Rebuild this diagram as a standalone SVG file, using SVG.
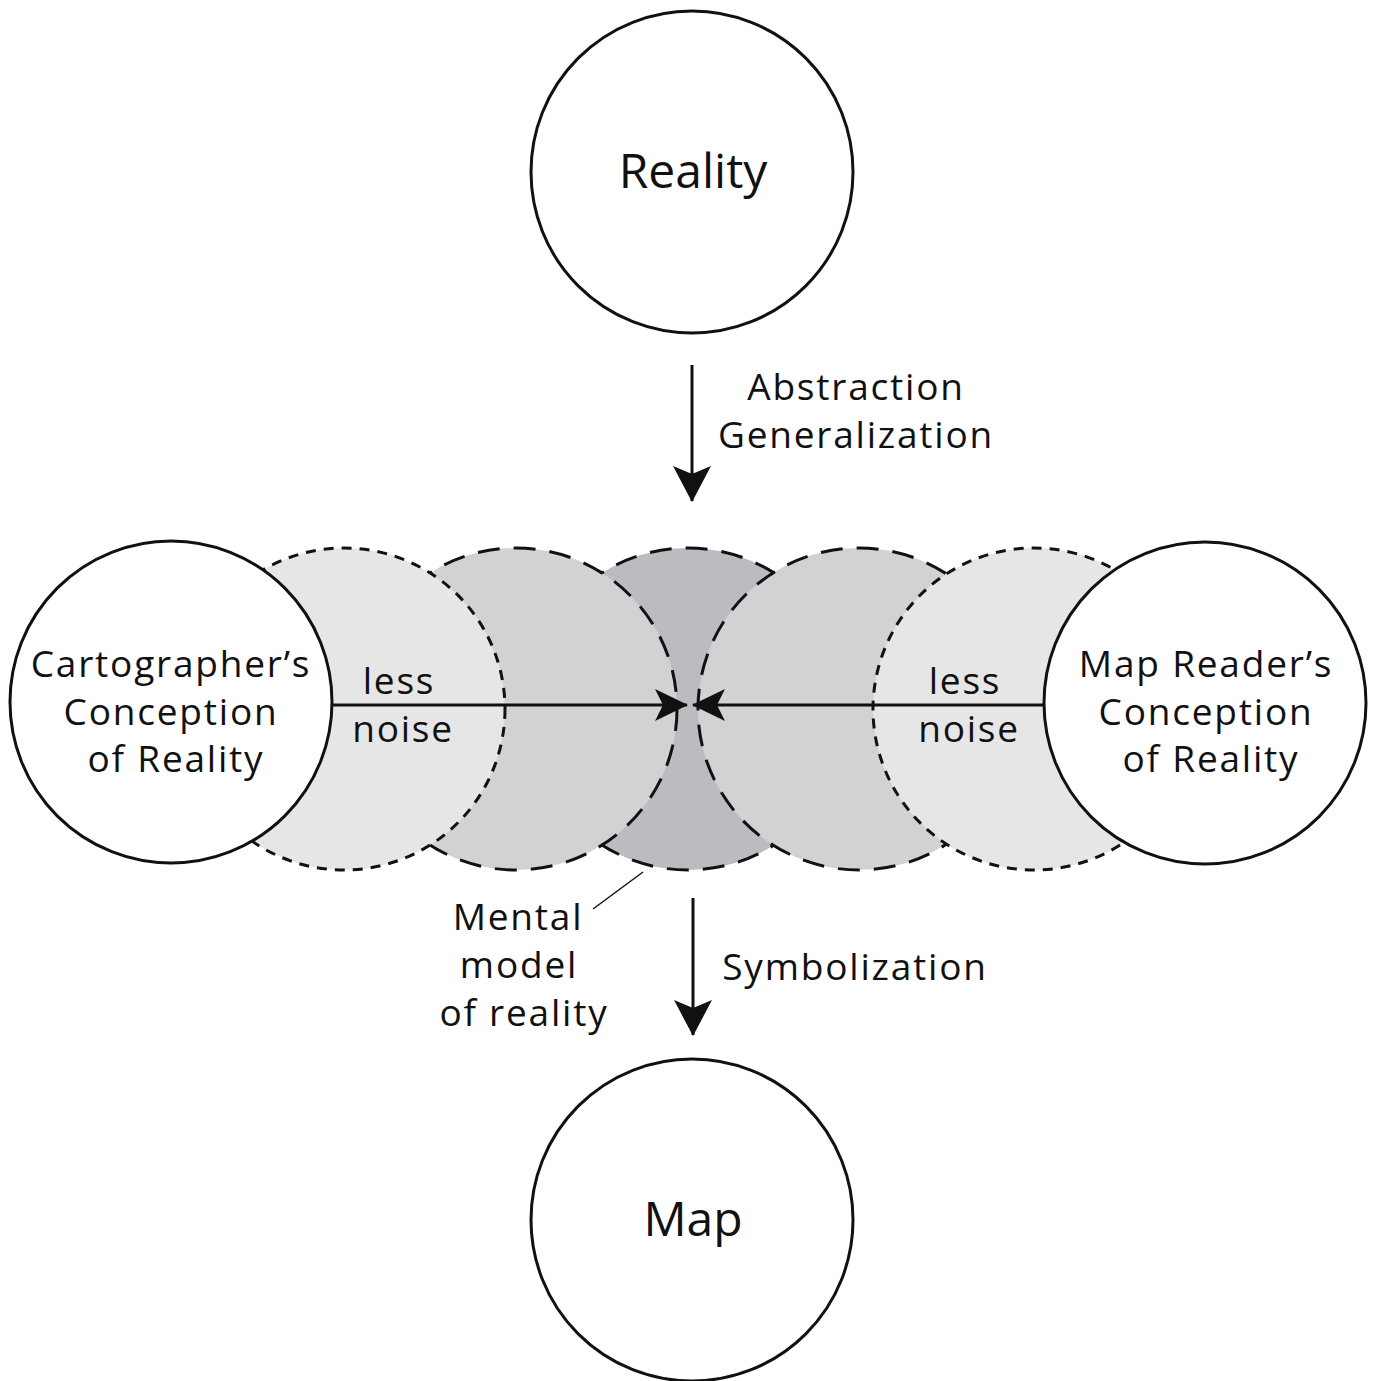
<svg xmlns="http://www.w3.org/2000/svg" width="1375" height="1381" viewBox="0 0 1375 1381">
<style>
.solid{fill:#fff;stroke:#111;stroke-width:3}
.dsh-s{stroke:#111;stroke-width:3;stroke-dasharray:10 8}
.dsh-l{stroke:#111;stroke-width:3;stroke-dasharray:22 14}
.light{fill:#e6e6e6}
.mid{fill:#d1d2d4}
.dark{fill:#bbbcbf}
text{font-family:"Open Sans","Noto Sans","Liberation Sans",sans-serif;fill:#111;text-anchor:middle}
.big{font-size:48px}
.t{font-size:37px;letter-spacing:1.8px}
.conn{stroke:#111;stroke-width:3;fill:none}
</style>
<defs>
<marker id="ah" viewBox="0 0 34 34" refX="32" refY="17" markerWidth="34" markerHeight="34" markerUnits="userSpaceOnUse" orient="auto">
<path d="M0,1 L33,17 L0,33 L8,17 Z" fill="#111"/>
</marker>
<marker id="av" viewBox="0 0 36 40" refX="35" refY="20" markerWidth="36" markerHeight="40" markerUnits="userSpaceOnUse" orient="auto">
<path d="M0,1 L36,20 L0,39 L8,20 Z" fill="#111"/>
</marker>
</defs>
<rect width="1375" height="1381" fill="#fff"/>

<g id="mental-model">
<circle cx="688" cy="709" r="161" class="dark dsh-l"/>
<circle cx="516" cy="709" r="161" class="mid dsh-l"/>
<circle cx="859" cy="709" r="161" class="mid dsh-l"/>
<circle cx="344" cy="709" r="161" class="light dsh-s"/>
<circle cx="1034" cy="709" r="161" class="light dsh-s"/>
</g>

<g id="reality">
<circle cx="692" cy="172" r="161" class="solid"/>
<text x="693" y="188" class="big">Reality</text>
</g>

<g id="cartographer">
<circle cx="171" cy="702" r="161" class="solid"/>
<text x="171" y="677" class="t">Cartographer’s</text>
<text x="171" y="725" class="t">Conception</text>
<text x="176" y="772" class="t">of Reality</text>
</g>

<g id="map-reader">
<circle cx="1205" cy="703" r="161" class="solid"/>
<text x="1206" y="677" class="t">Map Reader’s</text>
<text x="1206" y="725" class="t">Conception</text>
<text x="1211" y="772" class="t">of Reality</text>
</g>

<g id="map">
<circle cx="692" cy="1220" r="161" class="solid"/>
<text x="693" y="1236" class="big">Map</text>
</g>

<g id="connectors">
<line x1="332" y1="705" x2="687" y2="705" class="conn" marker-end="url(#ah)"/>
<line x1="1044" y1="705" x2="693" y2="705" class="conn" marker-end="url(#ah)"/>
<line x1="692" y1="365" x2="692" y2="501" class="conn" marker-end="url(#av)"/>
<line x1="693" y1="898" x2="693" y2="1035" class="conn" marker-end="url(#av)"/>
<line x1="593" y1="909" x2="643" y2="872" stroke="#111" stroke-width="1.5"/>
</g>

<g id="labels">
<text x="399" y="694" class="t">less</text>
<text x="403" y="742" class="t">noise</text>
<text x="965" y="694" class="t">less</text>
<text x="969" y="742" class="t">noise</text>
<text x="856" y="400" class="t">Abstraction</text>
<text x="856" y="448" class="t">Generalization</text>
<text x="855" y="980" class="t">Symbolization</text>
<text x="518" y="930" class="t">Mental</text>
<text x="519" y="978" class="t">model</text>
<text x="524" y="1026" class="t">of reality</text>
</g>
</svg>
